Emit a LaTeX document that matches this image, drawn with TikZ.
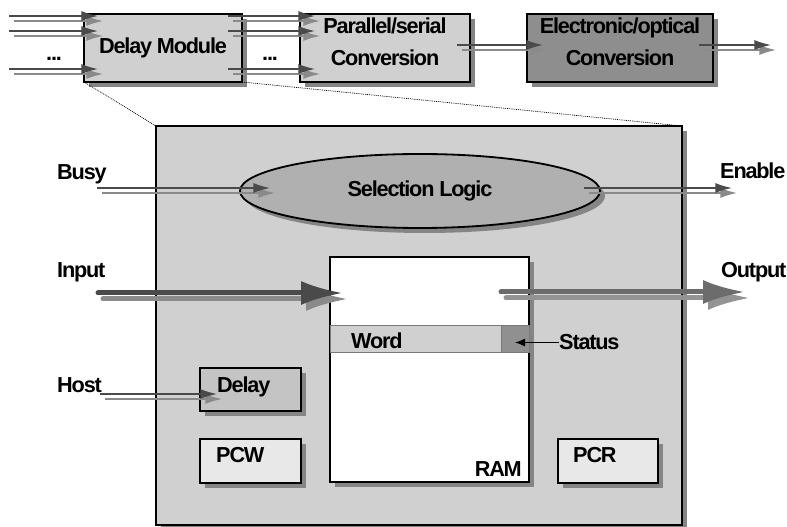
\documentclass[tikz,border=0pt]{standalone}
\usepackage{fontspec}
\setmainfont{Liberation Sans}
\newfontfamily\diafont{Liberation Sans}[LetterSpace=-5.5]
\newcommand{\lblfont}{\diafont\bfseries\fontsize{18.5}{27.5}\selectfont}
\usetikzlibrary{positioning, arrows.meta, calc, shapes.geometric, shadows}
\definecolor{panelfill}{HTML}{D0D0D0}
\definecolor{optofill}{HTML}{8E8E8E}
\definecolor{logicfill}{HTML}{B0B0B0}
\definecolor{delayfill}{HTML}{C4C4C4}
\definecolor{regfill}{HTML}{E8E8E8}
\definecolor{statusfill}{HTML}{909090}
\definecolor{wordline}{HTML}{7A7A7A}
\definecolor{shadowgray}{HTML}{858585}
\definecolor{sigdark}{HTML}{4A4A4A}
\definecolor{siglight}{HTML}{8A8A8A}
\definecolor{outdark}{HTML}{6C6C6C}
\definecolor{outlight}{HTML}{939393}

\begin{document}
\begin{tikzpicture}[
    x=0.3mm, y=-0.3mm,
    every node/.style={font=\lblfont},
    box/.style={
        draw, line width=0.55mm, inner sep=0pt, outer sep=0pt,
        drop shadow={shadow xshift=1.5mm, shadow yshift=-1.5mm,
                     fill=shadowgray, opacity=1}
    },
    lbl/.style={inner sep=0pt},
    zoomline/.style={line width=0.6pt, dash pattern=on 0.8pt off 0.8pt},
    sig/.style={line width=0.4mm, draw=sigdark, -{Latex[length=5mm, width=3mm]}},
    sigshade/.style={line width=0.4mm, draw=siglight, -{Latex[length=5mm, width=3mm]},
        transform canvas={shift={(1.5mm,-1.5mm)}}},
    bus/.style={line width=1.5mm, line cap=round, -{Latex[length=12.6mm, width=7.2mm]}},
    busshade/.style={bus, transform canvas={shift={(1.5mm,-1.8mm)}}},
]
\useasboundingbox (0,0) rectangle (787,527);

% Pipeline (top row)
\node[box, fill=panelfill, minimum width=47.4mm, minimum height=20.4mm] (delaymod)
    at (163,48) {Delay Module};
\node[box, fill=panelfill, minimum width=51mm, minimum height=20.4mm] (parser)
    at (385,48) {};
\node[lbl, align=center] (parsertxt) at ($(parser)+(0,-6)$)
    {Parallel/serial\\Conversion};
\node[box, fill=optofill, minimum width=55.8mm, minimum height=20.4mm] (eoconv)
    at (620,48) {};
\node[lbl, align=center] (eoconvtxt) at ($(eoconv)+(0,-6)$)
    {Electronic/optical\\Conversion};
\node[lbl, anchor=base west] (dotsin) at (46,61) {...};
\node[lbl, anchor=base west] (dotsmid) at (262,61) {...};

% Delay module, enlarged
\node[box, fill=panelfill, minimum width=157.8mm, minimum height=119.7mm] (unit)
    at (419,325.5) {};

% Zoom lines
\draw[zoomline] (delaymod.south west) -- (unit.north west);
\draw[zoomline] (delaymod.south east) -- (unit.north east);

\node[box, ellipse, fill=logicfill, minimum width=108mm, minimum height=22.2mm] (sel)
    at (420,191) {Selection Logic};

% RAM with one word
\node[box, fill=white, minimum width=59.7mm, minimum height=67.5mm] (ram)
    at (429.5,369.5) {};
\node[draw=wordline, line width=0.3mm, fill=panelfill, inner sep=0pt,
      minimum width=59.7mm, minimum height=8.1mm] (word) at (429.5,339.5) {};
\node[draw=wordline, line width=0.3mm, fill=statusfill, inner sep=0pt,
      minimum width=8.4mm, minimum height=8.1mm, anchor=east] (status) at (word.east) {};
\node[lbl, anchor=base west] (wordtxt) at (351,349) {Word};
\node[lbl, anchor=base east] (ramtxt) at (522,477) {RAM};

% Registers
\node[box, fill=delayfill, minimum width=30.3mm, minimum height=12.9mm] (delaybox)
    at (250.5,389.5) {};
\node[lbl, anchor=base west] (delaytxt) at (217,393) {Delay};
\node[box, fill=regfill, minimum width=30.3mm, minimum height=13.2mm] (pcw)
    at (250.5,461) {};
\node[lbl, anchor=base west] (pcwtxt) at (216,463) {PCW};
\node[box, fill=regfill, minimum width=30mm, minimum height=13.2mm] (pcr)
    at (608,461) {};
\node[lbl, anchor=base west] (pcrtxt) at (573,463) {PCR};

% Outside labels
\node[lbl, anchor=base west] (busytxt) at (57,180) {Busy};
\node[lbl, anchor=base west] (inputtxt) at (57,278) {Input};
\node[lbl, anchor=base west] (hosttxt) at (57,393) {Host};
\node[lbl, anchor=base west] (enabletxt) at (720,179) {Enable};
\node[lbl, anchor=base west] (outputtxt) at (721,278) {Output};
\node[lbl, anchor=base west] (statustxt) at (559,350) {Status};

% Free ends
\coordinate (in1) at (9,16);
\coordinate (in2) at (9,31);
\coordinate (in3) at (9,69);
\coordinate (optout) at (771,45);
\coordinate (busyin) at (97,188);
\coordinate (enableout) at (732,188);
\coordinate (hostin) at (100,394);
\coordinate (inputin) at (98,293);
\coordinate (outputout) at (745,292);

% Arrows: words into and out of the delay module
\foreach \i in {1,2,3} {
    \draw[sigshade] (in\i) -- ($(in\i -| delaymod.west)+(14,0)$);
    \draw[sig] (in\i) -- ($(in\i -| delaymod.west)+(14,0)$);
    \draw[sigshade] ($(in\i -| delaymod.east)+(-14,0)$) -- ($(in\i -| parser.west)+(15,0)$);
    \draw[sig] ($(in\i -| delaymod.east)+(-14,0)$) -- ($(in\i -| parser.west)+(15,0)$);
}

% Arrows: serial stream to the optical side
\draw[sigshade] ($(parser.east)+(-13,-3)$) -- ($(eoconv.west)+(16,-3)$);
\draw[sig] ($(parser.east)+(-13,-3)$) -- ($(eoconv.west)+(16,-3)$);
\draw[sigshade] ($(optout -| eoconv.east)+(-14,0)$) -- (optout);
\draw[sig] ($(optout -| eoconv.east)+(-14,0)$) -- (optout);

% Arrows: control signals
\draw[sigshade] (busyin) -- ($(busyin -| sel.west)+(30,0)$);
\draw[sig] (busyin) -- ($(busyin -| sel.west)+(30,0)$);
\draw[sigshade] ($(enableout -| sel.east)+(-16,0)$) -- (enableout);
\draw[sig] ($(enableout -| sel.east)+(-16,0)$) -- (enableout);
\draw[sigshade] (hostin) -- ($(hostin -| delaybox.west)+(17,0)$);
\draw[sig] (hostin) -- ($(hostin -| delaybox.west)+(17,0)$);

% Arrows: data path
\draw[busshade, draw=siglight] (inputin) -- ($(inputin -| ram.west)+(13,0)$);
\draw[bus, draw=sigdark] (inputin) -- ($(inputin -| ram.west)+(13,0)$);
\draw[busshade, draw=outlight] ($(outputout -| ram.east)+(-28,0)$) -- (outputout);
\draw[bus, draw=outdark] ($(outputout -| ram.east)+(-28,0)$) -- (outputout);

% Status flag
\draw[line width=0.3mm, -{Latex[length=3mm, width=2.4mm]}]
    (statustxt.west) -- (statustxt.west -| status.center);

\end{tikzpicture}
\end{document}
